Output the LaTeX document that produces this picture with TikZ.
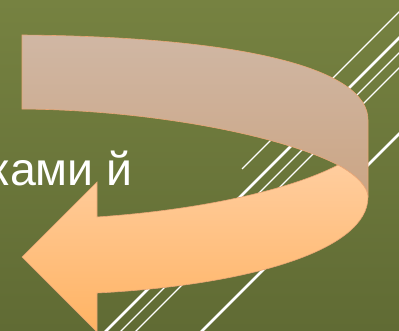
\documentclass[tikz,border=0pt]{standalone}
\usepackage{fontspec}
\newfontfamily\slidefont{Liberation Sans}
\definecolor{fondoalto}{HTML}{768241}
\definecolor{fondobajo}{HTML}{606B34}
\definecolor{cintaalto}{HTML}{D0B7A4}
\definecolor{cintabajo}{HTML}{CBA584}
\definecolor{frentealto}{HTML}{FFCD9E}
\definecolor{frentebajo}{HTML}{FFB363}
\definecolor{borde}{HTML}{E9A676}

\begin{document}
\begin{tikzpicture}[
    x=1pt, y=-1pt,
    raya/.style={white, line width=1.1pt},
    rayagruesa/.style={white, line width=2.8pt},
    cinta/.style={draw=borde, line width=0.6pt}]

  \useasboundingbox (0,0) rectangle (399,331);
  \clip (0,0) rectangle (399,331);

  %% ============================== fondo ====================================
  \shade[top color=fondoalto, bottom color=fondobajo] (0,0) rectangle (399,331);

  %% ============================= rayas =====================================
  \foreach \k in {452,467}
    \draw[raya] ({\k-340},340) -- ({\k+10},-10);
  \foreach \k in {437,533}
    \draw[rayagruesa] ({\k-340},340) -- ({\k+10},-10);
  \draw[raya] (242,169) -- (421,-10);

  %% ============================== texto ====================================
  \node[anchor=base east, inner sep=0pt, text=white,
        font=\slidefont\fontsize{46.5}{52}\selectfont] (texto) at (133,186) {ками й};

  %% ========================= flecha en U ===================================
  \shade[cinta, top color=cintaalto, bottom color=cintabajo]
    (22,35) .. controls (250,37) and (368,70) .. (368,120) -- (368,197)
    .. controls (368,188) and (358,176) .. (338,165)
    .. controls (280,135) and (150,110) .. (22,109) -- cycle;
  \shade[cinta, top color=frentealto, bottom color=frentebajo]
    (338,165) .. controls (358,176) and (368,188) .. (368,197)
    .. controls (368,250) and (250,285) .. (97,293) -- (97,332)
    -- (22,257) -- (97,182) -- (97,217)
    .. controls (200,210) and (290,190) .. (338,165) -- cycle;

\end{tikzpicture}
\end{document}
